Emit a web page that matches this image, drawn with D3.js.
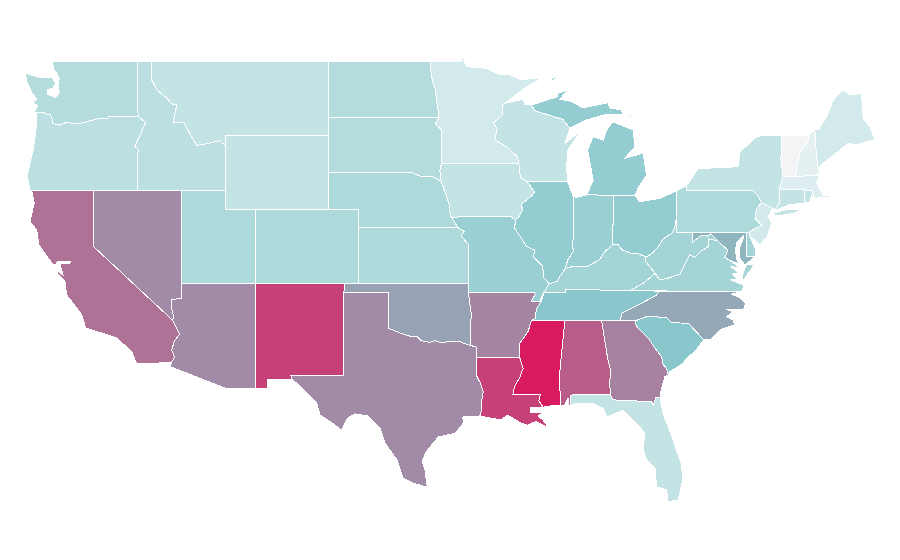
<!DOCTYPE html>
<html><head><meta charset="utf-8">
<script src="https://cdn.jsdelivr.net/npm/d3@7/dist/d3.min.js"></script>
<style>html,body{margin:0;background:#fff}svg{display:block}</style></head>
<body><svg id="map" width="900" height="560"></svg>
<script>
// Estimated value of each state, read from its colour
const stateNames = ["WA","OR","CA","NV","ID","MT","WY","UT","AZ","CO","NM","ND","SD","NE","KS","OK","TX","MN","IA","MO","AR","LA","WI","IL","MS","MI","IN","KY","TN","AL","OH","GA","FL","SC","NC","VA","WV","PA","MD","DE","NJ","NY","CT","RI","MA","VT","NH","ME"];
const stateValues = [29,25.5,74.7,67.5,25.5,22,22,32,67.5,32,89,29,29,32,32,60.5,67.5,15,22,41.5,69,89,22,45,100,45,41.5,37,50,81,45,70.5,22,50,59,37,37,32,55,37,15,22,22,22,10,0,6.6,15];
const colorStops = ["#f3f4f6","#d3eaec","#aed9da","#89c7cd","#8fb5bf","#a18ba6","#d81b60"];
const colorDomain = [0,15,32,50,55,67.5,100];
const lonDomain = [-120,-80.52], xRange = [93.3,676.7];
const latDomain = [49,25], yRange = [61.3,505.3];

// Shared boundaries, longitude/latitude pairs
const arcs = {
columbia:[-124.05,46.2,-123.4,46.25,-123.2,46.15,-122.9,46.1,-122.8,45.9,-122.75,45.65,-122.3,45.55,-121.9,45.68,-121.2,45.65,-120.9,45.65,-120.5,45.72,-119.6,45.92,-119,45.93,-118.98,46,-116.92,46],
snake:[-116.92,46,-116.47,45.7,-116.85,44.98,-117.2,44.4,-116.95,44.25,-117.03,43.83],
bitter:[-116.05,48,-115.7,47.45,-115,47,-114.7,46.7,-114.35,46.65,-114.6,45.7,-113.9,45.7,-113.45,45.05,-113,44.45,-112.3,44.55,-111.5,44.7,-111.05,44.47],
redN:[-97.22,49,-97.15,48.5,-97.05,47.9,-96.85,47.5,-96.77,46.9,-96.66,46.3,-96.6,45.94],
sdmn:[-96.6,45.94,-96.88,45.61,-96.43,45.29,-96.43,43.5],
sdia:[-96.43,43.5,-96.55,43.1,-96.45,42.49],
sdne:[-96.45,42.49,-97,42.75,-97.9,42.8,-98.5,43],
moIA:[-96.45,42.49,-96.1,41.7,-95.9,41.2,-95.85,40.7,-95.77,40.58],
moNE:[-95.77,40.58,-95.31,40],
moKS:[-95.31,40,-94.9,39.8,-95.1,39.55,-94.61,39.1],
red:[-100,34.56,-99.5,34.4,-99.2,34.3,-98.6,34.15,-98.1,34.13,-97.8,33.9,-97.2,33.8,-96.9,33.9,-96.5,33.8,-95.8,33.85,-95.3,33.88,-94.9,33.75,-94.48,33.64],
sabine:[-94.06,32,-93.8,31.6,-93.61,31.14,-93.72,30.6,-93.75,30.1,-93.83,29.83],
colNV:[-114.05,36.2,-114.73,36.1,-114.68,35.6,-114.57,35.2,-114.63,35],
colCA:[-114.63,35,-114.45,34.7,-114.15,34.25,-114.5,33.9,-114.7,33.4,-114.5,33,-114.72,32.72],
mnwi:[-92.15,46.73,-92.31,46.64,-92.33,46.1,-92.94,45.65,-92.67,45.38,-92.83,44.75,-92.03,44.38,-91.31,43.84,-91.2,43.5],
misWI:[-91.2,43.5,-91.15,43,-91.05,42.7,-90.64,42.5],
misIA:[-90.64,42.5,-90.15,41.95,-90.3,41.75,-91.05,41.25,-90.95,41,-91.1,40.7,-91.42,40.38],
misMO:[-91.42,40.38,-91.5,40,-91,39.4,-90.7,39,-90.15,38.8,-90.2,38.4,-89.6,37.95,-89.5,37.3,-89.15,36.98],
misKY:[-89.15,36.98,-89.5,36.5],
misTNm:[-89.5,36.5,-89.78,36.1,-89.7,36],
misTNa:[-89.7,36,-90,35.65,-90.1,35.1,-90.35,35],
misAR:[-90.35,35,-90.57,34.4,-91.13,33.76,-91.15,33],
misLA:[-91.15,33,-90.91,32.4,-91.15,31.9,-91.5,31.4,-91.6,31],
wimi:[-90.34,46.64,-90.12,46.33,-88.22,45.86,-87.75,45.38],
pearl:[-89.73,31,-89.85,30.65,-89.56,30.3],
alga:[-85.6,34.98,-85.18,32.87,-85,32.3,-85.05,31.55,-85,31],
flga:[-85,31,-84.86,30.7,-82.22,30.6,-82.1,30.42,-81.95,30.8,-81.66,30.83],
savannah:[-83.23,35,-83.35,34.85,-83.15,34.6,-82.78,34.3,-82.45,34.04,-82,33.5,-81.55,33.03,-81.43,32.6,-81.2,32.4,-81.09,32.05],
ncsc:[-83.23,35,-82.56,35.2,-81.2,35.16,-80.87,34.87,-79.74,34.84,-78.68,33.94],
tnnc:[-81.71,36.58,-81.88,36.37,-82.9,35.92,-83.57,35.65,-84.25,35.38,-84.32,35],
ohIL:[-89.15,36.98,-88.6,37.1,-88.45,37.35,-88.05,37.8],
wabash:[-87.53,39.35,-87.6,39.1,-87.5,38.75,-87.9,38.25,-88.05,37.8],
ohIN:[-88.05,37.8,-87.5,37.93,-87.05,37.9,-86.6,37.9,-86.25,38.05,-85.75,38.27,-85.4,38.7,-84.85,39.1],
ohOH:[-84.85,39.1,-84.5,39.1,-84.2,38.8,-83.65,38.63,-83.15,38.62,-82.6,38.42],
ohWV:[-82.6,38.42,-82.2,38.6,-81.75,39,-81.45,39.4,-80.85,39.7,-80.65,40,-80.52,40.64],
kywv:[-82.6,38.42,-82.6,38.15,-81.97,37.54],
kyva:[-81.97,37.54,-82.7,37.05,-83.68,36.6],
vawv:[-77.75,39.3,-78.35,39.4,-78.35,39,-78.85,38.75,-79.3,38.4,-79.65,38.55,-80.3,37.5,-81.2,37.25,-81.7,37.2,-81.97,37.54],
potomac:[-76.32,38.05,-76.95,38.25,-77.25,38.4,-77.05,38.8,-77.5,39.1,-77.75,39.3],
mdwv:[-77.75,39.3,-78.2,39.68,-78.45,39.55,-78.8,39.6,-79.05,39.48,-79.48,39.2],
delNY:[-75.35,42,-75.05,41.75,-74.78,41.36],
delNJ:[-74.78,41.36,-75.11,41.05,-75.22,40.51,-74.78,40.15,-75.16,39.99,-75.57,39.8],
vtny:[-73.42,45,-73.47,43.66,-73.32,42.76],
vtnh:[-71.62,45,-71.62,44.7,-72.18,44.11,-72.35,43.4,-72.52,42.76],
nhme:[-71.17,45.29,-71.1,44.3,-71,43.5,-70.95,43.22],
// coasts belonging to one state
waCoast:[-122.76,49,-122.7,48.6,-122.45,48.35,-122.3,48.05,-122.4,47.7,-122.3,47.3,-122.55,47.05,-123.1,47.2,-123.12,47.45,-122.7,47.55,-122.55,47.85,-122.8,48.1,-123.06,48.15,-123.74,48.15,-124.62,48.37,-124.49,47.9,-124.15,47.3,-123.83,46.95,-124.08,46.75,-123.76,46.6,-124.05,46.2],
orCoast:[-124.05,46.2,-123.83,46.18,-123.88,45.26,-124.08,44.17,-124.35,43.25,-124.47,42.82,-124.28,42],
caCoast:[-114.72,32.72,-117.06,32.64,-117.4,33.3,-118.41,34.04,-119.43,34.31,-120.51,34.58,-120.78,35.29,-121.8,36.37,-121.92,37.09,-122.36,37.45,-122.51,37.83,-122.45,37.67,-122.05,37.45,-122.25,38.04,-121.57,38.1,-121.57,38.2,-122.38,38.2,-122.58,37.99,-122.71,37.99,-123.68,39.07,-123.83,39.88,-124.28,40.33,-124,41.34,-124.17,42],
rio:[-93.83,29.83,-95,29.77,-94.95,29.45,-95.5,28.9,-96.65,28.69,-97.47,27.9,-97.75,27.36,-97.55,26.9,-97.4,25.98,-98.35,26.2,-99.04,26.48,-99.45,27.45,-100.27,28.37,-100.6,29.18,-101.42,29.83,-102.3,29.94,-102.78,29.72,-103.2,29.07,-103.65,29.34,-104.66,29.88,-104.88,30.51,-106.24,31.61,-106.53,31.78],
mnTop:[-95.07,49,-95.07,49.34,-94.74,48.71,-93.38,48.62,-92.48,48.26,-91.8,48.26,-91.01,47.99,-90.23,48.08,-89.77,48.03,-90.68,47.63,-92.15,46.73],
wiN:[-92.15,46.73,-90.9,46.95,-90.8,46.64,-90.34,46.64],
wiLake:[-87.75,45.38,-88.09,44.57,-87.07,45.19,-87.88,44.2,-87.97,43.3,-87.9,42.49],
laCoast:[-89.56,30.3,-90.45,30.26,-90.38,29.99,-89.57,29.99,-89.91,29.83,-89.57,29.61,-89.16,29.17,-90.06,29.53,-90.6,29.32,-91.08,29.45,-91.96,29.88,-92.44,29.61,-93.83,29.83],
flCoast:[-81.66,30.83,-81.44,29.97,-80.76,28.53,-80.19,27.18,-80.12,26.37,-80.42,25.29,-81.1,25.19,-81.2,25.83,-81.88,26,-81.99,27.02,-82.56,27.45,-82.79,27.99,-82.68,28.91,-83.35,29.52,-84.14,30.15,-85.26,29.76,-85.49,30.24,-86.17,30.48,-87.43,30.48,-87.7,30.37,-87.72,30.96],
scCoast:[-78.68,33.94,-79.3,33.3,-79.85,32.95,-80.08,32.68,-80.98,32.22,-81.09,32.05],
ncCoast:[-78.68,33.94,-78.16,33.98,-77.6,34.48,-76.6,34.75,-76.7,35.02,-77.15,35.19,-76.7,35.46,-77.15,35.59,-76.02,35.56,-75.84,35.93,-76.2,36.19,-76.81,36.42,-76.13,36.55],
miUpper:[-90.34,46.64,-88.56,47.09,-88.56,47.27,-87.88,47.45,-88.43,46.95,-87.63,46.82,-86.87,46.48,-85.18,46.75,-85.05,46.48,-84.25,46.37,-84.16,46.1,-85.45,46.1,-86.62,45.83,-87.3,45.56,-87.75,45.38],
miLower:[-86.62,41.78,-84.8,41.76,-84.8,41.73,-83.35,41.75,-83.1,42.2,-82.56,42.85,-82.79,44.03,-84.03,43.76,-83.35,44.38,-83.46,45.29,-84.84,45.73,-85.26,45.29,-85.49,44.75,-86.19,44.92,-86.54,44.2,-86.17,42.58],
ohLake:[-83.35,41.75,-83.01,41.41,-81.65,41.59,-80.53,42],
mdBay:[-75.22,38.44,-75.9,37.99,-76.3,38.4,-76.3,38.85,-76.05,39.35,-76,39.55,-76.45,39.2,-76.55,38.8,-76.45,38.3,-76.32,38.05],
vaCoast:[-76.13,36.55,-75.97,36.9,-76.3,37,-76.9,37.2,-76.35,37.2,-76.75,37.5,-76.3,37.55,-76.85,37.9,-76.25,37.85,-76.95,38.25],
nyLake:[-79.85,42.27,-79.07,43.2,-76.38,43.3,-76.24,44.11,-75.11,44.92,-74.7,45],
njCoast:[-75.57,39.52,-75.1,39.25,-74.89,39.07,-74.4,39.5,-74.1,40.24,-74.33,40.6,-74.03,41.05],
maCoast:[-70.83,42.76,-71.06,42.4,-70.6,41.77,-70.15,41.77,-70.1,41.65,-71.3,41.6],
meTop:[-70.95,45.29,-70.38,46,-69.93,46.9,-69.26,47.45,-68.8,47.18,-68.01,47.27,-67.9,45.92,-67.45,45.46,-67.11,44.78,-68.35,44.48,-68.92,44.58,-69.7,44.04,-70.61,43.5,-70.95,43.22]
};

// Each state: polygons made of arc names ("-" = reversed) and single corner points
const shapes = {
WA:[["waCoast","columbia",[-117.04,46.42],[-117.04,49]]],
OR:[["orCoast",[-117.03,42],[-117.03,43.83],"-snake","-columbia"]],
CA:[["caCoast",[-120,42],[-120,39],"colCA"],[[-119.9,34],[-119.5,34.03],[-119.5,33.97],[-119.9,33.95]],[[-118.6,33.45],[-118.35,33.35],[-118.45,33.33]]],
NV:[[[-120,42],[-114.04,42],"colNV",[-120,39]]],
ID:[[[-117.04,49],[-116.05,49],"bitter",[-111.05,42],[-117.03,42],[-117.03,43.83],"-snake",[-117.04,46.42]]],
MT:[[[-116.05,49],[-104.05,49],[-104.05,45],[-111.05,45],"-bitter"]],
WY:[[[-111.05,45],[-104.05,45],[-104.05,41],[-111.05,41]]],
UT:[[[-114.04,42],[-111.05,42],[-111.05,41],[-109.05,41],[-109.05,37],[-114.05,37]]],
AZ:[[[-114.05,37],[-109.05,37],[-109.05,31.33],[-111.07,31.33],[-114.81,32.5],"-colCA","-colNV"]],
CO:[[[-109.05,41],[-102.05,41],[-102.05,37],[-109.05,37]]],
NM:[[[-109.05,37],[-103,37],[-103.04,36.5],[-103.06,32],[-106.62,32],[-106.53,31.78],[-108.2,31.78],[-108.2,31.33],[-109.05,31.33]]],
ND:[[[-104.05,49],"redN",[-104.05,45.94]]],
SD:[[[-104.05,45.94],"sdmn","sdia","sdne",[-104.05,43]]],
NE:[[[-104.05,43],"-sdne","moIA","moNE",[-102.05,40],[-102.05,41],[-104.05,41]]],
KS:[[[-102.05,40],"moKS",[-94.62,37],[-102.04,37]]],
OK:[[[-103,37],[-94.62,37],[-94.62,36.5],[-94.43,35.4],"-red",[-100,36.5],[-103.04,36.5]]],
TX:[[[-103.04,36.5],[-100,36.5],"red",[-94.04,33.55],"sabine","rio",[-106.62,32],[-103.06,32]]],
MN:[[[-97.22,49],"mnTop","mnwi",[-96.43,43.5],"-sdmn","-redN"]],
IA:[[[-96.43,43.5],"misWI","misIA",[-91.73,40.61],[-95.77,40.58],"-moIA","-sdia"]],
MO:[[[-95.77,40.58],[-91.73,40.61],"misMO","misKY","misTNm",[-90.37,36],[-90.1,36.4],[-90.15,36.5],[-94.62,36.5],[-94.62,37],"-moKS","-moNE"]],
AR:[[[-94.62,36.5],[-90.15,36.5],[-90.1,36.4],[-90.37,36],"misTNa","misAR",[-94.04,33],[-94.04,33.55],[-94.48,33.64],[-94.43,35.4]]],
LA:[[[-94.04,33],"misLA","pearl","laCoast","-sabine"]],
WI:[["wiN","wimi","wiLake",[-90.64,42.5],"-misWI","-mnwi"]],
IL:[[[-90.64,42.5],[-87.9,42.49],[-87.53,41.7],"wabash","-ohIL","-misMO","-misIA"]],
MS:[[[-90.35,35],[-88.2,35],[-88.1,34.9],[-88.47,31.9],[-88.36,30.42],[-89,30.38],"-pearl","-misLA","-misAR"]],
MI:[["miUpper","-wimi"],["miLower"],[[-89.2,47.85],[-88.5,48.15],[-88.85,48.15]],[[-83.9,46.05],[-83.55,46.1],[-83.55,45.95]]],
IN:[[[-87.53,41.7],[-87.3,41.65],[-86.62,41.78],[-84.8,41.76],[-84.85,39.1],"-ohIN","-wabash"]],
KY:[["ohIL","ohIN","ohOH","kywv","kyva",[-88.07,36.68],[-88.07,36.5],[-89.5,36.5]]],
TN:[[[-89.7,36],[-89.5,36.5],[-88.07,36.5],[-88.07,36.68],[-83.68,36.6],"tnnc",[-90.35,35],"-misTNa"]],
AL:[[[-88.2,35],"alga",[-87.72,30.96],[-87.7,30.37],[-87.8,30.37],[-87.88,30.8],[-88.15,30.37],[-88.36,30.42],[-88.47,31.9],[-88.1,34.9]]],
OH:[["ohLake",[-80.52,40.64],"-ohWV","-ohOH",[-84.8,41.73]]],
GA:[[[-85.6,34.98],"savannah",[-81.32,31.95],[-81.54,31.32],"-flga","-alga"]],
FL:[["flga","flCoast"]],
SC:[["ncsc","scCoast","-savannah"]],
NC:[[[-84.32,35],[-83.23,35],"ncsc","ncCoast",[-81.71,36.58],"tnnc"]],
VA:[[[-83.68,36.6],"vaCoast",[-77.25,38.4],[-77.05,38.8],[-77.5,39.1],"vawv","kyva"],[[-75.85,37.98],[-75.25,38.03],[-76.02,37.15],[-76.1,37.3]]],
WV:[[[-80.52,40.64],[-80.52,39.72],[-79.48,39.72],[-79.48,39.2],"-mdwv","vawv","-kywv","ohWV"]],
PA:[[[-80.53,42],[-79.85,42.27],[-79.85,42],"delNY","delNJ",[-75.79,39.72],[-80.52,39.72],[-80.52,40.64]]],
MD:[[[-79.48,39.72],[-75.79,39.72],[-75.79,38.44],"mdBay","potomac","mdwv"]],
DE:[[[-75.79,39.72],[-75.57,39.8],[-75.55,39.5],[-75.16,38.8],[-75.16,38.44],[-75.79,38.44]]],
NJ:[["delNJ","njCoast"]],
NY:[[[-79.85,42],"nyLake","vtny",[-73.59,42.1],[-73.59,41.32],[-73.87,40.96],[-74.03,41.05],"-delNY"],[[-73.99,40.78],[-73.26,40.96],[-72.18,41],[-72.07,40.96],[-72.66,40.78],[-73.76,40.64]]],
CT:[[[-73.59,42.1],[-71.85,42.05],[-71.85,41.33],[-72.9,41.25],[-73.65,41],[-73.87,40.96],[-73.59,41.32]]],
RI:[[[-71.85,42.05],[-71.4,42.02],[-71.2,41.6],[-71.4,41.75],[-71.5,41.4],[-71.85,41.33]]],
MA:[[[-73.59,42.1],[-73.32,42.76],[-72.52,42.76],[-71.17,42.85],"maCoast",[-71.2,41.6],[-71.4,42.02],[-71.85,42.05]]],
VT:[["vtnh",[-73.32,42.76],[-73.47,43.66],[-73.42,45]]],
NH:[["vtnh",[-71.17,42.85],[-70.83,42.9],"-nhme"]],
ME:[["nhme","-meTop"]]
};

const lonScale = d3.scaleLinear().domain(lonDomain).range(xRange);
const latScale = d3.scaleLinear().domain(latDomain).range(yRange);
const projection = d3.geoTransform({point(lon,lat){this.stream.point(lonScale(lon),latScale(lat));}});
const path = d3.geoPath(projection);
const color = d3.scaleLinear().domain(colorDomain).range(colorStops);

function arcPoints(name){
  const rev = name[0]==="-", a = arcs[rev?name.slice(1):name], pts=[];
  for(let i=0;i<a.length;i+=2) pts.push([a[i],a[i+1]]);
  return rev?pts.reverse():pts;
}
function ring(parts){
  const pts = parts.flatMap(p=>typeof p==="string"?arcPoints(p):[p]);
  pts.push(pts[0]);
  return pts;
}
const features = stateNames.map((n,i)=>({type:"Feature",id:n,properties:{value:stateValues[i]},
  geometry:{type:"MultiPolygon",coordinates:shapes[n].map(r=>[ring(r)])}}));

d3.select("#map").selectAll("path").data(features).join("path")
  .attr("d",path)
  .attr("fill",d=>color(d.properties.value))
  .attr("stroke","#fff").attr("stroke-width",1)
  .attr("shape-rendering","crispEdges")
  .append("title").text(d=>d.id);
</script></body></html>
